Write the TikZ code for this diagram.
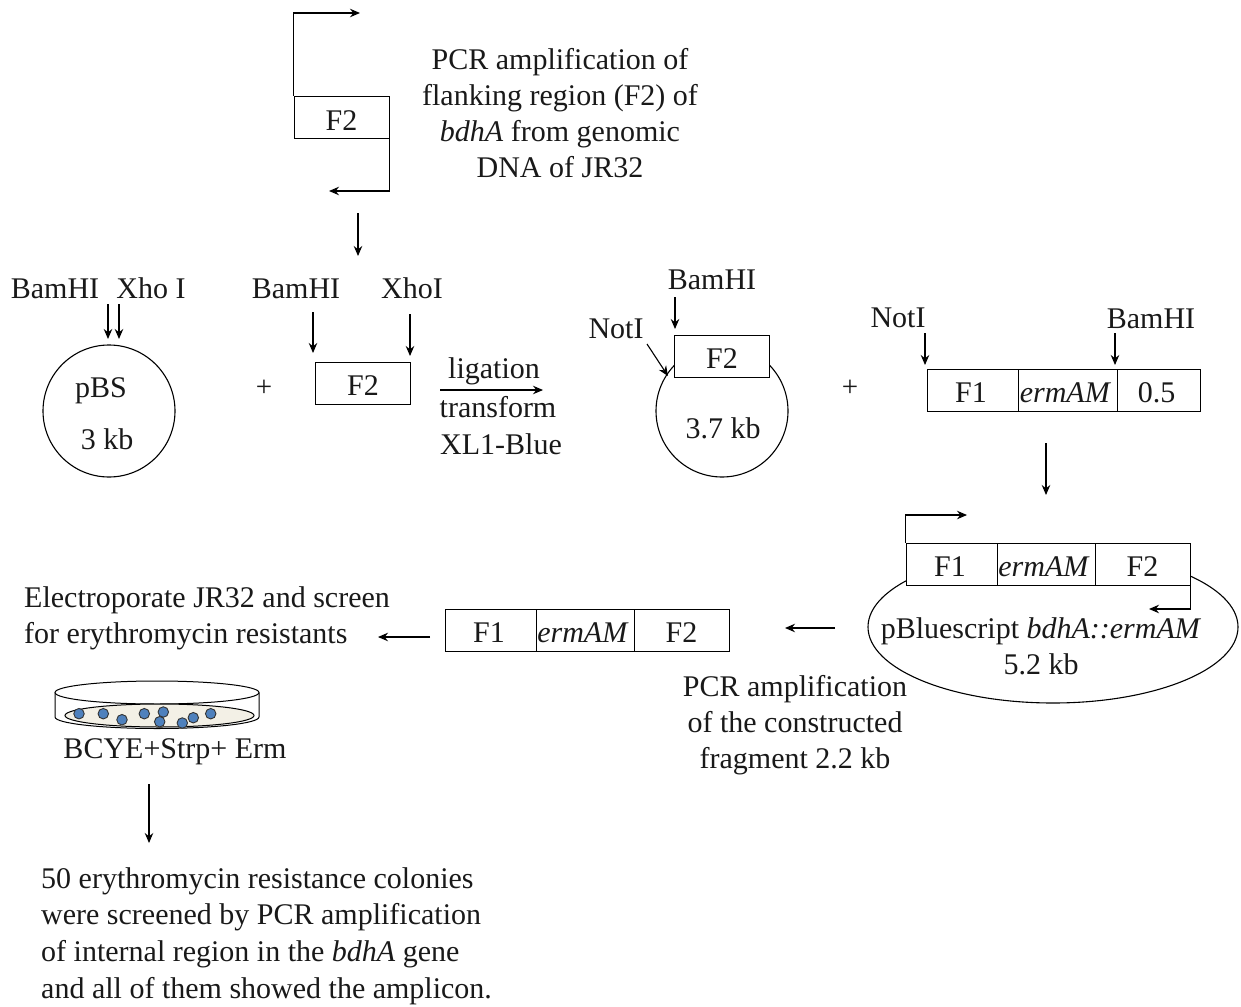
\documentclass[tikz,border=0pt]{standalone}
\usepackage{fontspec}
\setmainfont{Liberation Serif}
\usetikzlibrary{arrows.meta,shapes.geometric}
\definecolor{colblue}{RGB}{79,129,189}
\definecolor{agarc}{RGB}{243,240,230}
\newcommand{\bxt}[1]{\raisebox{-12.5pt}[10pt][10pt]{#1}}
\newcommand{\bxe}{\bxt{\textit{ermAM}\hspace{4pt}}}
\tikzset{
  lbl/.style={inner sep=0pt,font=\fontsize{30}{36}\selectfont,text=black!90},
  para/.style={lbl,align=center},
  lpara/.style={lbl,align=left,anchor=west},
  seg/.style={draw,fill=white,line width=1pt,minimum height=42pt,inner sep=0pt,font=\fontsize{30}{36}\selectfont,text=black!90},
  ring/.style={draw,circle,line width=1.1pt,inner sep=0pt,minimum size=132pt},
  arr/.style={line width=1.1pt,-{Stealth[length=10pt,width=8.5pt]}},
  plus/.style={lbl,font=\fontsize{29}{30}\selectfont},
  colony/.style={draw=black!80,fill=colblue,circle,line width=.9pt,minimum size=10.5pt,inner sep=0pt}
}
\begin{document}
\begin{tikzpicture}[x=1pt,y=-1pt]
\useasboundingbox (0,0) rectangle (1241,1006);
% top PCR
\node[seg,minimum width=95pt] (f2a) at (341.5,117.5) {\bxt{F2}};
\coordinate (f2aTop) at (360,13);
\coordinate (f2aBot) at (329,191);
\draw[arr] (f2a.north west) |- (f2aTop);
\draw[arr] (f2a.south east) |- (f2aBot);
\node[para] (t1) at (560,113) {PCR amplification of\\flanking region (F2) of\\\textit{bdhA} from genomic\\DNA of JR32};
\coordinate (d1a) at (358,213); \coordinate (d1b) at (358,256);
\draw[arr] (d1a) -- (d1b);
% pBS
\node[ring] (pbs) at (109,411) {};
\node[lbl] (pbsa) at (101,391) {pBS};
\node[lbl] (pbsb) at (107,439) {3 kb};
\node[lbl] (bam1) at (55,288.5) {BamHI};
\node[lbl] (xho1) at (151,288) {Xho I};
\coordinate (a1s) at (108,304); \coordinate (a1e) at (108,339);
\coordinate (a2s) at (119,304); \coordinate (a2e) at (119,339);
\draw[arr] (a1s) -- (a1e);
\draw[arr] (a2s) -- (a2e);
\node[plus] (p1) at (264,388) {+};
% insert
\node[seg,minimum width=95pt] (f2b) at (363,383) {\bxt{F2}};
\node[lbl] (bam2) at (296,288.5) {BamHI};
\node[lbl] (xho2) at (412,288) {XhoI};
\coordinate (a3s) at (313,312); \coordinate (a3e) at (313,353);
\coordinate (a4s) at (410,314); \coordinate (a4e) at (410,356);
\draw[arr] (a3s) -- (a3e);
\draw[arr] (a4s) -- (a4e);
\node[lbl] (lig) at (494,371) {ligation};
\coordinate (a5s) at (440,390); \coordinate (a5e) at (543,390);
\draw[arr] (a5s) -- (a5e);
\node[lbl] (trans) at (498,407.5) {transform};
\node[lbl] (xl) at (501,444) {XL1-Blue};
% 3.7 kb
\node[ring] (c37) at (722,411) {};
\node[seg,minimum width=95pt] (f2c) at (722,356) {\bxt{F2}};
\node[lbl] (k37) at (723,428) {3.7 kb};
\node[lbl] (not1) at (616,329) {NotI};
\node[lbl] (bam3) at (712,279.5) {BamHI};
\coordinate (a6s) at (675,297); \coordinate (a6e) at (675,329);
\coordinate (a7s) at (647,344); \coordinate (a7e) at (668,376);
\draw[arr] (a6s) -- (a6e);
\draw[arr] (a7s) -- (a7e);
\node[plus] (p2) at (850,388) {+};
% F1 ermAM 0.5
\node[seg,minimum width=91pt] (b1) at (972.5,390) {\bxt{F1\hspace{3pt}}};
\node[seg,minimum width=99pt] (b2) at (1067.5,390) {\bxe};
\node[seg,minimum width=83pt] (b3) at (1158.5,390) {\bxt{0.5\hspace{4pt}}};
\node[lbl] (not2) at (898,318) {NotI};
\node[lbl] (bam4) at (1151,318.5) {BamHI};
\coordinate (a8s) at (925,333); \coordinate (a8e) at (925,365);
\coordinate (a9s) at (1115,333); \coordinate (a9e) at (1115,365);
\draw[arr] (a8s) -- (a8e);
\draw[arr] (a9s) -- (a9e);
\coordinate (a10s) at (1046,443); \coordinate (a10e) at (1046,495);
\draw[arr] (a10s) -- (a10e);
% plasmid
\node[draw,ellipse,line width=1.1pt,minimum width=370pt,minimum height=152pt,inner sep=0pt] (pl) at (1053,627) {};
\node[seg,minimum width=91pt] (c1) at (951.5,564) {\bxt{F1\hspace{3pt}}};
\node[seg,minimum width=98pt] (c2) at (1046,564) {\bxe};
\node[seg,minimum width=95pt] (c3) at (1142.5,564) {\bxt{F2}};
\coordinate (c1top) at (967,515);
\coordinate (c3bot) at (1149,609);
\draw[arr] (c1.north west) |- (c1top);
\draw[arr] (c3.south east) |- (c3bot);
\node[para] (pltxt) at (1041,646) {pBluescript \textit{bdhA::ermAM}\\5.2 kb};
\coordinate (a11s) at (835,628); \coordinate (a11e) at (785,628);
\draw[arr] (a11s) -- (a11e);
\node[para] (t2) at (795,725) {PCR amplification\\of the constructed\\fragment 2.2 kb};
% amplicon
\node[seg,minimum width=91pt] (d1) at (490.5,630) {\bxt{F1\hspace{3pt}}};
\node[seg,minimum width=98pt] (d2) at (585,630) {\bxe};
\node[seg,minimum width=95pt] (d3) at (681.5,630) {\bxt{F2}};
\coordinate (a12s) at (430,637); \coordinate (a12e) at (378,637);
\draw[arr] (a12s) -- (a12e);
\node[lpara] (t3) at (24,618.5) {Electroporate JR32 and screen\\for erythromycin resistants};
% dish
\draw[line width=1pt] (55,692.5) -- (55,717) arc[start angle=180,end angle=360,x radius=102,y radius=-11.5] -- (259,692.5);
\node[draw,ellipse,fill=white,line width=1pt,minimum width=204pt,minimum height=23pt,inner sep=0pt] (dtop) at (157,692.5) {};
\node[draw,ellipse,fill=agarc,line width=1pt,minimum width=189pt,minimum height=23pt,inner sep=0pt] (agar) at (159.5,715.5) {};
\foreach \n/\x/\y in {1/79/713.7,2/103.3/713.7,3/122/719.7,4/144.3/713.7,5/163.3/712,6/159.7/721.7,7/182.3/723,8/193.3/717.7,9/210.7/713.7}
  \node[colony] (col\n) at (\x,\y) {};
\node[lbl] (bcye) at (175,752) {BCYE+Strp+ Erm};
\coordinate (a13s) at (149,784); \coordinate (a13e) at (149,843);
\draw[arr] (a13s) -- (a13e);
\node[lpara,font=\fontsize{30}{36.6}\selectfont] (t4) at (41,936) {50 erythromycin resistance colonies\\were screened by PCR amplification\\of internal region in the \textit{bdhA} gene\\and all of them showed the amplicon.};
\end{tikzpicture}
\end{document}
